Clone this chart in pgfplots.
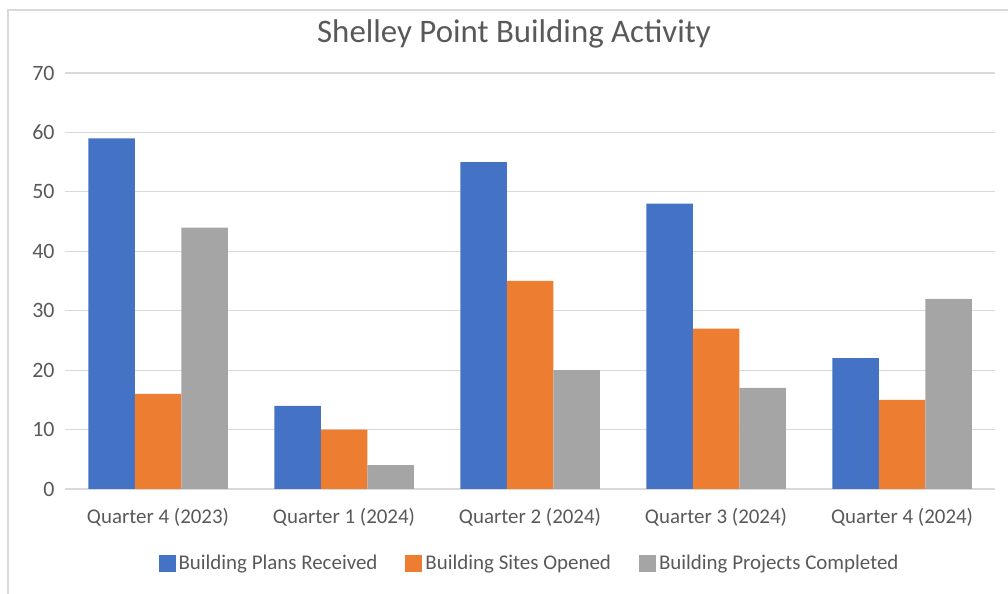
\documentclass[border=0pt]{standalone}
\usepackage{pgfplots}
\pgfplotsset{compat=1.18}
\usepackage{fontspec}
\setmainfont{Carlito}
\definecolor{cblue}{HTML}{4472C4}
\definecolor{corange}{HTML}{ED7D31}
\definecolor{cgray}{HTML}{A5A5A5}
\definecolor{gridc}{HTML}{D9D9D9}
\definecolor{textc}{HTML}{595959}
\pgfplotsset{sqleg/.style={legend image code/.code={\fill[##1] (0bp,-8.5bp) rectangle (17bp,8.5bp);}}}
\begin{document}
\begin{tikzpicture}[x=1bp,y=1bp]
\useasboundingbox (0,0) rectangle (1008,594);
\draw[gridc, line width=1.5bp] (8,0) -- (8,584) -- (1008,584);
\node[text=textc, font=\fontsize{33}{39}\selectfont] at (514,560) {Shelley Point Building Activity};
\begin{axis}[
  at={(65bp,105bp)}, anchor=south west,
  width=930bp, height=416bp, scale only axis,
  xmin=-0.5, xmax=4.5, ymin=0, ymax=70,
  ybar=0pt, bar width=46.5bp,
  xtick=data,
  xticklabels={Quarter 4 (2023),Quarter 1 (2024),Quarter 2 (2024),Quarter 3 (2024),Quarter 4 (2024)},
  ytick={0,10,...,70},
  ymajorgrids, grid style={gridc, line width=1.2bp},
  axis x line*=bottom, axis y line*=left,
  y axis line style={draw=none},
  x axis line style={draw=gridc, line width=1.2bp},
  major tick length=0pt,
  tick label style={text=textc, font=\fontsize{21}{25}\selectfont},
  /pgf/number format/assume math mode=true,
  yticklabel style={anchor=east, xshift=-7bp, font=\fontsize{22}{26}\selectfont},
  xticklabel style={anchor=north, yshift=-16bp},
  legend style={at={(0.5,-0.178)}, anchor=center, draw=none, fill=none,
    legend columns=-1, font=\fontsize{21}{25}\selectfont, text=textc,
    /tikz/every even column/.append style={column sep=25bp},
    nodes={inner sep=3bp}},
]
\addplot[fill=cblue, draw=none, sqleg] coordinates {(0,59) (1,14) (2,55) (3,48) (4,22)};
\addplot[fill=corange, draw=none, sqleg] coordinates {(0,16) (1,10) (2,35) (3,27) (4,15)};
\addplot[fill=cgray, draw=none, sqleg] coordinates {(0,44) (1,4) (2,20) (3,17) (4,32)};
\legend{Building Plans Received,Building Sites Opened,Building Projects Completed}
\end{axis}
\end{tikzpicture}
\end{document}
